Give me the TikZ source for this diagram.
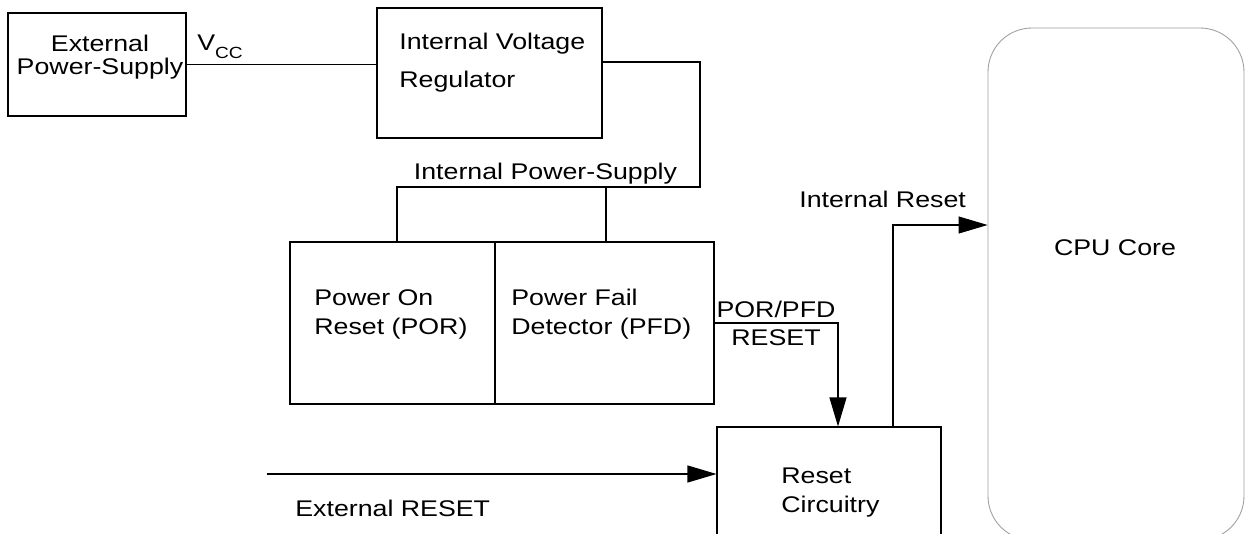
\documentclass[tikz,border=0pt]{standalone}
\usepackage{fontspec}
\setmainfont[FakeStretch=1.18]{Liberation Sans}
\usepackage{tikz}
\usetikzlibrary{arrows.meta,positioning}

\newcommand{\lblfont}{\fontsize{12.9}{13}\selectfont}

\begin{document}
\begin{tikzpicture}[
    block/.style={draw, line width=0.6pt, inner sep=0pt},
    blockthick/.style={draw, line width=1.4pt, inner sep=0pt},
    corebox/.style={draw=gray!75, line width=0.5pt, rounded corners=0.88cm, inner sep=0pt},
    wire/.style={line width=0.6pt},
    sig/.style={wire, -{Triangle[length=0.58cm, width=0.34cm]}},
    lbl/.style={font=\lblfont, inner sep=0pt, anchor=base west, align=left},
    lblc/.style={font=\lblfont, inner sep=0pt, anchor=base, align=center}
]
\useasboundingbox (0,0) rectangle (24.9,-10.68);
\clip (0,0) rectangle (24.9,-10.68);

% blocks
\node[block, minimum width=3.56cm, minimum height=2.06cm] (ext) at (1.94,-1.29) {};
\node[block, minimum width=4.50cm, minimum height=2.60cm] (reg) at (9.79,-1.46) {};
\node[blockthick, minimum width=4.10cm, minimum height=3.24cm] (por) at (7.85,-6.46) {};
\node[blockthick, minimum width=4.38cm, minimum height=3.24cm] (pfd) at (12.09,-6.46) {};
\node[block, minimum width=4.48cm, minimum height=2.36cm] (rst) at (16.58,-9.72) {};
\node[corebox, minimum width=5.12cm, minimum height=10.24cm] (cpu) at (22.32,-5.68) {};

% texts (base of the last line)
\node[lblc] (extlbl) at (2.00,-1.48) {External\\Power-Supply};
\node[lbl] (vcc) at (3.94,-1.00) {V\raisebox{-5pt}{\fontsize{9.2}{10}\selectfont CC}};
\node[lbl] (reglbl) at (7.98,-1.74) {Internal Voltage\\[8.5pt]Regulator};
\node[lblc] (buslbl) at (10.91,-3.58) {Internal Power-Supply};
\node[lbl] (porlbl) at (6.28,-6.68) {Power On\\[3.4pt]Reset (POR)};
\node[lbl] (pfdlbl) at (10.22,-6.68) {Power Fail\\[3.4pt]Detector (PFD)};
\node[lblc] (resetlbl) at (15.52,-6.90) {POR/PFD\\[2.6pt]RESET};
\node[lbl] (intlbl) at (15.98,-4.14) {Internal Reset};
\node[lbl] (rstlbl) at (15.62,-10.24) {Reset\\[3.4pt]Circuitry};
\node[lbl] (xlbl) at (5.90,-10.32) {External RESET};
\node[lblc] (cpulbl) at (22.30,-5.10) {CPU Core};

% supply
\coordinate (bus) at (14.00,-3.74);
\draw[wire] (ext.east) -- (ext.east -| reg.west);
\draw[wire] ([yshift=0.22cm]reg.east) -| (bus) -| ([xshift=0.09cm]por.north);
\draw[wire] ([xshift=0.03cm]pfd.north) |- (bus);

% resets
\coordinate (xin) at (5.34,-9.48);
\draw[sig] (pfd.east) -| ([xshift=0.18cm]rst.north);
\draw[sig] ([xshift=1.28cm]rst.north) |- ([yshift=1.18cm]cpu.west);
\draw[sig] (xin) -- (xin -| rst.west);

\end{tikzpicture}
\end{document}
